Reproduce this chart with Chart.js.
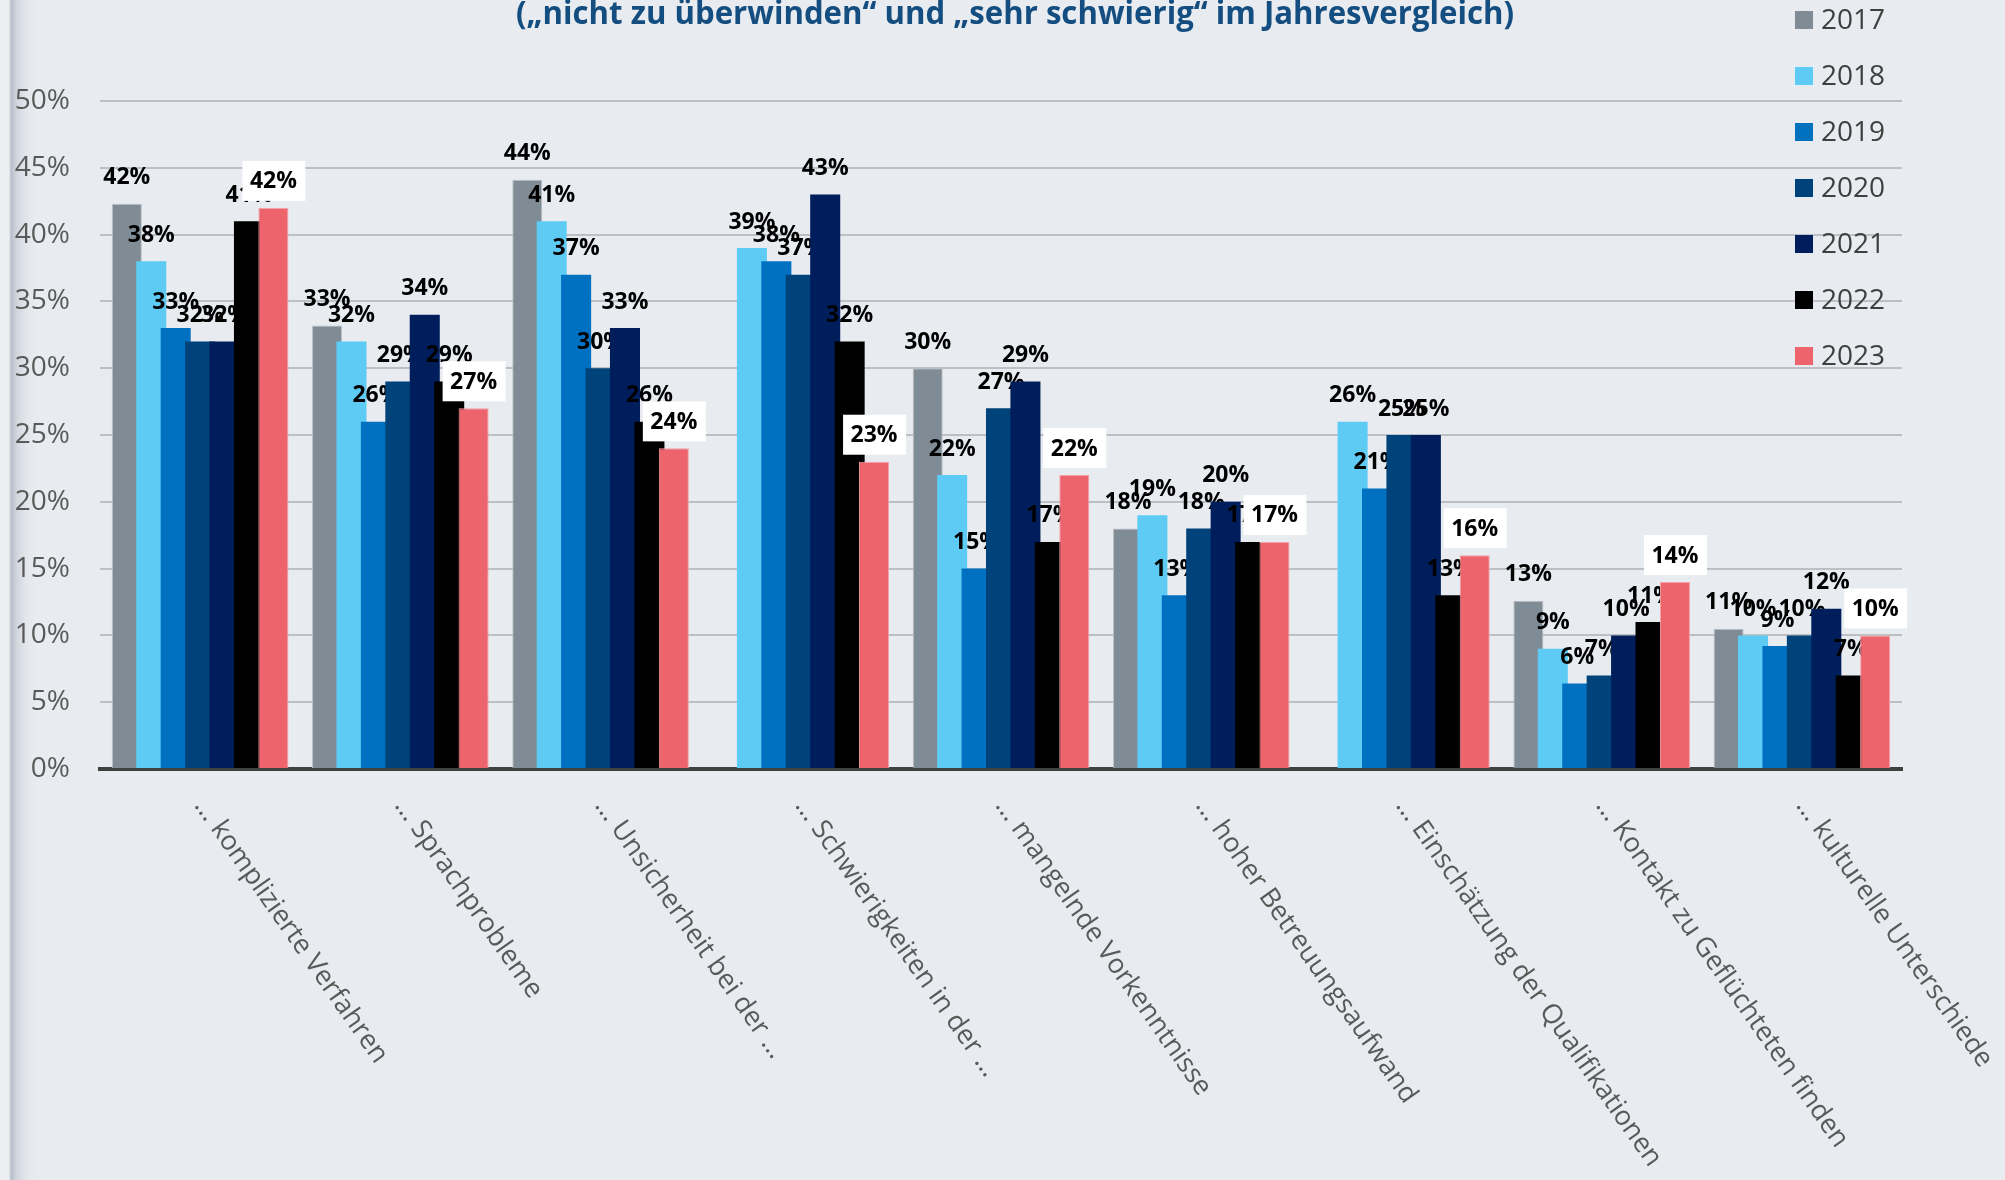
<!DOCTYPE html>
<html lang="de">
<head>
<meta charset="utf-8">
<title>Hemmnisse im Jahresvergleich</title>
<script src="https://cdn.jsdelivr.net/npm/chart.js@4.4.1/dist/chart.umd.min.js"></script>
<style>
  html, body { margin: 0; padding: 0; }
  body {
    width: 2005px; height: 1180px; overflow: hidden;
    background: linear-gradient(to right, #eceef2 0px, #eceef2 9px, #b7bfcb 11px, #d2d7df 17px, #e3e6eb 26px, #e8ebf0 36px);
  }
  #wrap { position: relative; width: 2005px; height: 1180px; }
</style>
</head>
<body>
<div id="wrap"><canvas id="hemmnisChart" width="2005" height="1180"></canvas></div>
<script>
// Data
const titleText = '(\u201Enicht zu \u00FCberwinden\u201C und \u201Esehr schwierig\u201C im Jahresvergleich)';

const categories = [
    '\u2026 komplizierte Verfahren',
    '\u2026 Sprachprobleme',
    '\u2026 Unsicherheit bei der \u2026',
    '\u2026 Schwierigkeiten in der \u2026',
    '\u2026 mangelnde Vorkenntnisse',
    '\u2026 hoher Betreuungsaufwand',
    '\u2026 Einsch\u00E4tzung der Qualifikationen',
    '\u2026 Kontakt zu Gefl\u00FCchteten finden',
    '\u2026 kulturelle Unterschiede'
];

const years = ['2017', '2018', '2019', '2020', '2021', '2022', '2023'];

const values2017 = [42.3, 33.2, 44.1, null, 30, 18, null, 12.6, 10.5];
const values2018 = [38, 32, 41, 39, 22, 19, 26, 9, 10];
const values2019 = [33, 26, 37, 38, 15, 13, 21, 6.4, 9.2];
const values2020 = [32, 29, 30, 37, 27, 18, 25, 7, 10];
const values2021 = [32, 34, 33, 43, 29, 20, 25, 10, 12];
const values2022 = [41, 29, 26, 32, 17, 17, 13, 11, 7];
const values2023 = [42, 27, 24, 23, 22, 17, 16, 14, 10];

const yTicks = [0, 5, 10, 15, 20, 25, 30, 35, 40, 45, 50];

const seriesValues = [values2017, values2018, values2019, values2020, values2021, values2022, values2023];
const seriesColors = ['#808c95', '#5ecbf5', '#0070c0', '#00427a', '#001e5c', '#000000', '#ee646c'];
const seriesBorders = ['#b9c0c6', '#5ecbf5', '#0070c0', '#00427a', '#001e5c', '#000000', '#f4a2a7'];

// Value labels of one series
function drawValueLabels(chart, meta, i) {
    const ctx = chart.ctx;
    const boxed = i === years.length - 1;
    ctx.save();
    ctx.font = 'bold 23px "Open Sans"';
    ctx.textAlign = 'center';
    ctx.textBaseline = 'middle';
    meta.data.forEach((bar, j) => {
        const v = chart.data.datasets[i].data[j];
        if (v === null || v === undefined) return;
        const x = bar.x;
        const y = bar.y - 27;
        if (boxed) {
            ctx.fillStyle = '#ffffff';
            ctx.fillRect(x - 31, y - 20, 63, 40);
        }
        ctx.fillStyle = '#000000';
        ctx.fillText(Math.round(v) + '%', x, y + 1);
    });
    ctx.restore();
}

// Draw the series from 2017 to 2023 so each later year lies on top,
// with its labels drawn right after it (the next series may cover them)
const seriesPainter = {
    id: 'seriesPainter',
    beforeDatasetsDraw(chart) {
        const metas = chart.getSortedVisibleDatasetMetas()
            .slice()
            .sort((a, b) => a.index - b.index);
        metas.forEach(meta => {
            meta.controller.draw();
            drawValueLabels(chart, meta, meta.index);
        });
        return false;
    }
};

// Title, legend and rotated category labels
const decorations = {
    id: 'decorations',
    afterDraw(chart) {
        const ctx = chart.ctx;
        const area = chart.chartArea;

        // Title (cut off at the top like the original)
        ctx.save();
        ctx.font = 'bold 32px "Open Sans"';
        const w = ctx.measureText(titleText).width;
        ctx.fillStyle = '#144d7f';
        ctx.textAlign = 'center';
        ctx.textBaseline = 'alphabetic';
        ctx.translate(1015, 24);
        ctx.scale(998 / w, 1);
        ctx.fillText(titleText, 0, 0);
        ctx.restore();

        // Legend
        ctx.save();
        ctx.font = '28px "Open Sans"';
        ctx.textAlign = 'left';
        ctx.textBaseline = 'middle';
        chart.data.datasets.forEach((ds, i) => {
            const cy = 20 + i * 56;
            ctx.fillStyle = ds.backgroundColor;
            ctx.fillRect(1795, cy - 9, 18, 18);
            ctx.fillStyle = '#404040';
            ctx.fillText(ds.label, 1821, cy + 1);
        });
        ctx.restore();

        // Category labels
        const xScale = chart.scales.x;
        ctx.save();
        ctx.font = '27px "Open Sans"';
        ctx.fillStyle = '#595959';
        ctx.textAlign = 'left';
        ctx.textBaseline = 'middle';
        categories.forEach((label, i) => {
            const cx = xScale.getPixelForValue(i);
            ctx.save();
            ctx.translate(cx, area.bottom + 32);
            ctx.rotate(55 * Math.PI / 180);
            ctx.fillText(label, 0, 0);
            ctx.restore();
        });
        ctx.restore();
    }
};

function initializeChart() {
    const chartCtx = document.getElementById('hemmnisChart');
    new Chart(chartCtx, {
        type: 'bar',
        data: {
            labels: categories,
            datasets: years.map((year, i) => ({
                label: year,
                data: seriesValues[i],
                backgroundColor: seriesColors[i],
                borderColor: seriesBorders[i],
                borderWidth: (i === 0 || i === 6) ? 1 : 0,
                categoryPercentage: 0.854,
                barPercentage: 1.23
            }))
        },
        options: {
            responsive: false,
            devicePixelRatio: 1,
            animation: false,
            layout: {
                padding: { top: 101, right: 103, bottom: 411, left: 0 }
            },
            plugins: {
                legend: { display: false },
                tooltip: { enabled: false },
                title: { display: false }
            },
            scales: {
                x: {
                    z: 1,
                    grid: { display: false, drawTicks: false },
                    border: { display: true, color: '#404040', width: 4 },
                    ticks: { display: false },
                    afterFit(scale) { scale.height = 0; }
                },
                y: {
                    min: 0,
                    max: 50,
                    afterBuildTicks(scale) {
                        scale.ticks = yTicks.map(v => ({ value: v }));
                    },
                    grid: { color: '#bcbfc4', lineWidth: 2, drawTicks: false },
                    border: { display: false },
                    ticks: {
                        padding: 30,
                        color: '#595959',
                        font: { family: '"Open Sans"', size: 28 },
                        callback: v => v + '%'
                    },
                    afterFit(scale) { scale.width = 100; }
                }
            }
        },
        plugins: [seriesPainter, decorations]
    });
}

document.addEventListener('DOMContentLoaded', initializeChart);
</script>
</body>
</html>
